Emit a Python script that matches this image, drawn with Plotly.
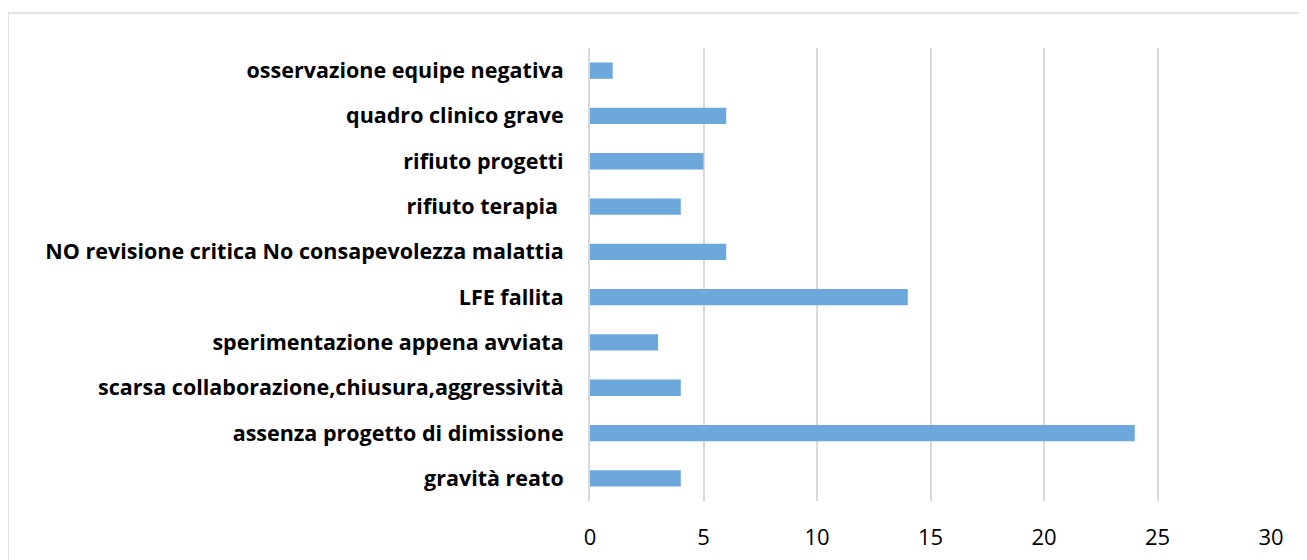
import plotly.graph_objects as go

categories = [
    "gravità reato",
    "assenza progetto di dimissione",
    "scarsa collaborazione,chiusura,aggressività",
    "sperimentazione appena avviata",
    "LFE fallita",
    "NO revisione critica No consapevolezza malattia",
    "rifiuto terapia ",
    "rifiuto progetti",
    "quadro clinico grave",
    "osservazione equipe negativa",
]
values = [4, 24, 4, 3, 14, 6, 4, 5, 6, 1]
x_ticks = [0, 5, 10, 15, 20, 25, 30]

W, H = 1307, 560
PAD = 8  # page body margin shifts the figure by this much
ml, mt = 590 - PAD, 48 - PAD
pw, ph = 681, 453
mr, mb = W - ml - pw, H - mt - ph

fig = go.Figure(
    go.Bar(
        x=values,
        y=categories,
        orientation="h",
        marker=dict(color="#6CA8DC", line=dict(width=0)),
        width=0.36,
    )
)


# light outer frame of the chart area (screen px -> paper coords)
def px_x(sx):
    return (sx - PAD - ml) / pw


def px_y(sy):
    return (mt + ph - (sy - PAD)) / ph


fig.add_shape(
    type="rect",
    xref="paper", yref="paper",
    x0=px_x(8), x1=px_x(1300),
    y0=px_y(580), y1=px_y(13),
    line=dict(color="#d9d9d9", width=1.5),
    fillcolor="rgba(0,0,0,0)",
    layer="below",
)

fig.update_layout(
    width=W,
    height=H,
    margin=dict(l=ml, r=mr, t=mt, b=mb),
    plot_bgcolor="white",
    paper_bgcolor="white",
    showlegend=False,
    font=dict(family="Open Sans, sans-serif", color="#000000"),
)
fig.update_xaxes(
    range=[0, 30],
    tickvals=x_ticks,
    showgrid=True,
    gridcolor="#d9d9d9",
    gridwidth=2,
    zeroline=False,
    showline=False,
    ticks="",
    tickfont=dict(size=22),
    ticklabelstandoff=21,
    automargin=False,
)
fig.update_yaxes(
    showgrid=False,
    zeroline=False,
    showline=True,
    linecolor="#d9d9d9",
    linewidth=2,
    ticks="",
    tickfont=dict(size=21.5, family="Open Sans", weight="bold"),
    ticklabelstandoff=20,
    automargin=False,
)

fig.write_html("out.html")
